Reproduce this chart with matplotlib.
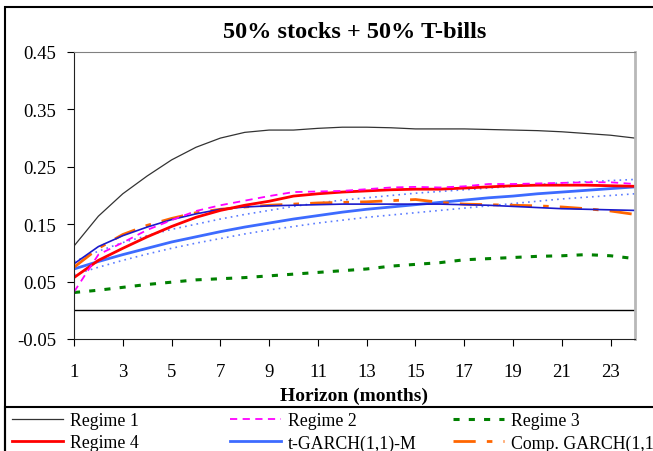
import matplotlib
matplotlib.use('Agg')
import matplotlib.pyplot as plt

plt.rcParams['font.family'] = ['Liberation Serif', 'DejaVu Serif']
plt.rcParams['axes.unicode_minus'] = False

# horizon in months
months = list(range(1, 25))

# values
regime1 = [0.112, 0.164, 0.203, 0.234, 0.262, 0.284, 0.300, 0.310, 0.314, 0.314, 0.317, 0.319,
           0.319, 0.318, 0.316, 0.316, 0.316, 0.315, 0.314, 0.313, 0.311, 0.308, 0.305, 0.300]
regime2 = [0.032, 0.097, 0.118, 0.140, 0.157, 0.173, 0.183, 0.191, 0.199, 0.206, 0.207, 0.208,
           0.211, 0.214, 0.215, 0.214, 0.216, 0.220, 0.220, 0.221, 0.222, 0.223, 0.223, 0.220]
regime3 = [0.031, 0.035, 0.040, 0.045, 0.049, 0.053, 0.055, 0.057, 0.060, 0.063, 0.066, 0.069,
           0.072, 0.077, 0.080, 0.083, 0.088, 0.090, 0.092, 0.094, 0.095, 0.097, 0.095, 0.090]
regime4 = [0.057, 0.087, 0.108, 0.128, 0.146, 0.162, 0.174, 0.183, 0.190, 0.199, 0.203, 0.206,
           0.208, 0.210, 0.211, 0.211, 0.213, 0.215, 0.217, 0.218, 0.218, 0.218, 0.217, 0.216]
tgarch = [0.072, 0.085, 0.097, 0.108, 0.119, 0.128, 0.137, 0.145, 0.152, 0.159, 0.165, 0.171,
          0.176, 0.180, 0.184, 0.188, 0.192, 0.196, 0.199, 0.203, 0.206, 0.209, 0.212, 0.215]
tgarch_up = [0.085, 0.103, 0.118, 0.130, 0.141, 0.150, 0.159, 0.167, 0.174, 0.181, 0.187, 0.192,
             0.196, 0.200, 0.204, 0.207, 0.210, 0.213, 0.216, 0.219, 0.222, 0.224, 0.226, 0.228]
tgarch_lo = [0.062, 0.075, 0.087, 0.098, 0.108, 0.117, 0.125, 0.133, 0.140, 0.146, 0.152, 0.157,
             0.162, 0.166, 0.170, 0.174, 0.178, 0.182, 0.186, 0.190, 0.194, 0.197, 0.200, 0.203]
comp_garch = [0.075, 0.108, 0.132, 0.148, 0.160, 0.170, 0.176, 0.180, 0.183, 0.185, 0.187, 0.188,
              0.189, 0.191, 0.193, 0.188, 0.185, 0.184, 0.183, 0.182, 0.180, 0.177, 0.173, 0.167]
comp_garch2 = [0.081, 0.111, 0.130, 0.145, 0.158, 0.168, 0.176, 0.180, 0.182, 0.183, 0.184, 0.185,
               0.185, 0.185, 0.185, 0.185, 0.184, 0.183, 0.181, 0.179, 0.177, 0.176, 0.175, 0.174]

fig = plt.figure(figsize=(6.53, 4.52), dpi=100)
ax = fig.add_axes([74/653, 1-340/452, (635-74)/653, (340-53)/452])

ax.axhline(0, color='black', lw=1)
l1, = ax.plot(months, regime1, color='#333333', lw=0.9, label='Regime 1')
ax.plot(months, tgarch_lo, color='#5b7cff', lw=1.2, ls=(0, (1, 2.5)))
ax.plot(months, tgarch_up, color='#5b7cff', lw=1.2, ls=(0, (1, 2.5)))
l3, = ax.plot(months, regime3, color='#008000', lw=2.2, ls=(0, (2, 3)), label='Regime 3')
l5, = ax.plot(months, tgarch, color='#3d6bff', lw=2, label='t-GARCH(1,1)-M')
l6, = ax.plot(months, comp_garch, color='#ff6600', lw=2, ls=(0, (8, 4, 2, 4)), label='Comp. GARCH(1,1)')
ax.plot(months, comp_garch2, color='#1a1acc', lw=1.2)
l4, = ax.plot(months, regime4, color='#ff0000', lw=2, label='Regime 4')
l2, = ax.plot(months, regime2, color='#ff00ff', lw=1.3, ls=(0, (4, 3)), label='Regime 2')

ax.set_xlim(1, 24)
ax.set_ylim(-0.05, 0.45)
ax.set_xticks(range(1, 24, 2))
ax.set_yticks([-0.05, 0.05, 0.15, 0.25, 0.35, 0.45])
ax.set_yticklabels(['%.2f' % v for v in [-0.05, 0.05, 0.15, 0.25, 0.35, 0.45]])
ax.tick_params(axis='both', direction='out', length=5, labelsize=13.5, color='black')
ax.tick_params(axis='x', pad=12)
ax.tick_params(axis='y', pad=8)
ax.spines['left'].set_color('#222222')
ax.spines['bottom'].set_color('#222222')
ax.spines['top'].set_color('#808080')
ax.spines['right'].set_color('#b8b8b8')
ax.spines['right'].set_linewidth(2)

ax.set_title('50% stocks + 50% T-bills', fontsize=17.5, fontweight='bold', pad=11)
ax.set_xlabel('Horizon (months)', fontsize=14, fontweight='bold', labelpad=5)

# outer chart frame and legend box
fig.add_artist(plt.Rectangle((5/653, -0.1), 2, 1.1 - 8/452, transform=fig.transFigure,
                             fill=False, ec='black', lw=1.5))
fig.add_artist(plt.Rectangle((5/653, -0.1), 2, 0.1 + (452-408)/452, transform=fig.transFigure,
                             fill=False, ec='black', lw=1.5))

cols = [([l1, l4], 10), ([l2, l5], 228), ([l3, l6], 451)]
for handles, xpos in cols:
    leg = fig.legend(handles=handles, loc='upper left', bbox_to_anchor=(xpos/653, 1-411/452),
                     frameon=False, fontsize=12.8, handlelength=2.9, handletextpad=0.35,
                     labelspacing=0.32, borderpad=0.1, borderaxespad=0)

fig.savefig('out.png', dpi=100)
